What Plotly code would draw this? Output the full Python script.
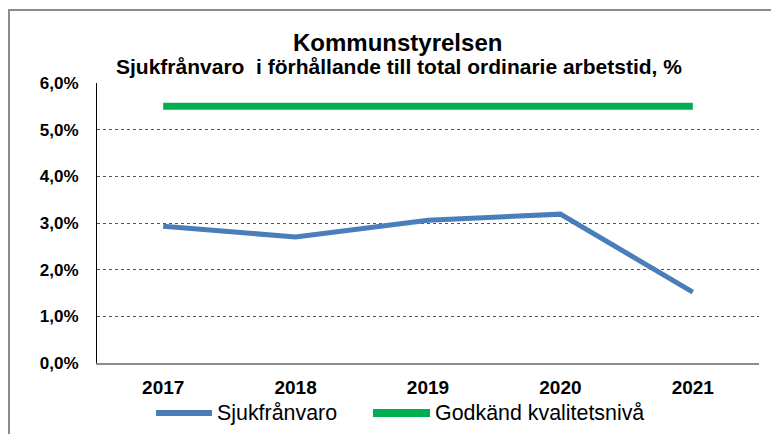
import plotly.graph_objects as go

years = ["2017", "2018", "2019", "2020", "2021"]
sjukfranvaro = [2.93, 2.70, 3.06, 3.19, 1.52]
godkand = [5.5, 5.5, 5.5, 5.5, 5.5]
y_ticks = [0, 1, 2, 3, 4, 5, 6]
y_ticktext = ["0,0%", "1,0%", "2,0%", "3,0%", "4,0%", "5,0%", "6,0%"]
series_names = ["Sjukfrånvaro", "Godkänd kvalitetsnivå"]
series_colors = ["#4A7EBB", "#00B050"]

W, H = 779, 434
OFF = 8  # page body margin
# plot area in screenshot pixels
SL, SR, ST, SB = 97, 759, 83, 363
L, R, T, B = SL - OFF, SR - OFF, ST - OFF, SB - OFF

def px(x):
    return (x - SL) / (SR - SL)

def py(y):
    return (SB - y) / (SB - ST)

FONT = "Liberation Sans, Arial, sans-serif"

fig = go.Figure()
fig.add_trace(go.Scatter(x=years, y=sjukfranvaro, mode="lines", name=series_names[0],
                         line=dict(color=series_colors[0], width=5)))
fig.add_trace(go.Scatter(x=years, y=godkand, mode="lines", name=series_names[1],
                         line=dict(color=series_colors[1], width=7)))

legend_items = [(156, 212, 215), (373, 430, 433)]
shapes = [
    dict(type="rect", xref="paper", yref="paper", x0=px(9), y0=py(480), x1=px(820), y1=py(10),
         line=dict(color="#8C8C8C", width=2), fillcolor="rgba(0,0,0,0)", layer="below"),
]
annotations = [
    dict(text="<b>Kommunstyrelsen</b>", xref="paper", yref="paper",
         x=px(397), y=py(42), xanchor="center", yanchor="middle", showarrow=False,
         font=dict(size=24, family=FONT)),
    dict(text="<b>Sjukfrånvaro  i förhållande till total ordinarie arbetstid, %</b>",
         xref="paper", yref="paper", x=px(398.5), y=py(67), xanchor="center",
         yanchor="middle", showarrow=False, font=dict(size=21, family=FONT)),
]
for (x0, x1, tx), name, col, lw in zip(legend_items, series_names, series_colors, [6, 8]):
    shapes.append(dict(type="line", xref="paper", yref="paper", x0=px(x0), x1=px(x1),
                       y0=py(413), y1=py(413), line=dict(color=col, width=lw)))
    annotations.append(dict(text=name, xref="paper", yref="paper", x=px(tx), y=py(413),
                            xanchor="left", yanchor="middle", showarrow=False,
                            font=dict(size=21.4, family=FONT)))

fig.update_layout(
    width=W, height=H,
    margin=dict(l=L, r=W - R, t=T, b=H - B, pad=0, autoexpand=False),
    paper_bgcolor="white", plot_bgcolor="white",
    font=dict(family=FONT, color="black"),
    showlegend=False,
    xaxis=dict(type="category", range=[-0.5, 4.5], showgrid=False, showline=True,
               linecolor="#8C8C8C", linewidth=2, ticks="", ticklabelstandoff=6,
               automargin=False,
               tickfont=dict(size=19, family=FONT, weight="bold")),
    yaxis=dict(range=[0, 6], tickvals=y_ticks, ticktext=y_ticktext,
               showgrid=True, gridcolor="#555555", gridwidth=1, griddash="dot",
               zeroline=False, showline=True, linecolor="black", linewidth=1,
               ticks="", ticklabelstandoff=14, automargin=False,
               tickfont=dict(size=17, family=FONT, weight="bold")),
    annotations=annotations,
    shapes=shapes,
)

fig.write_html("out.html")
